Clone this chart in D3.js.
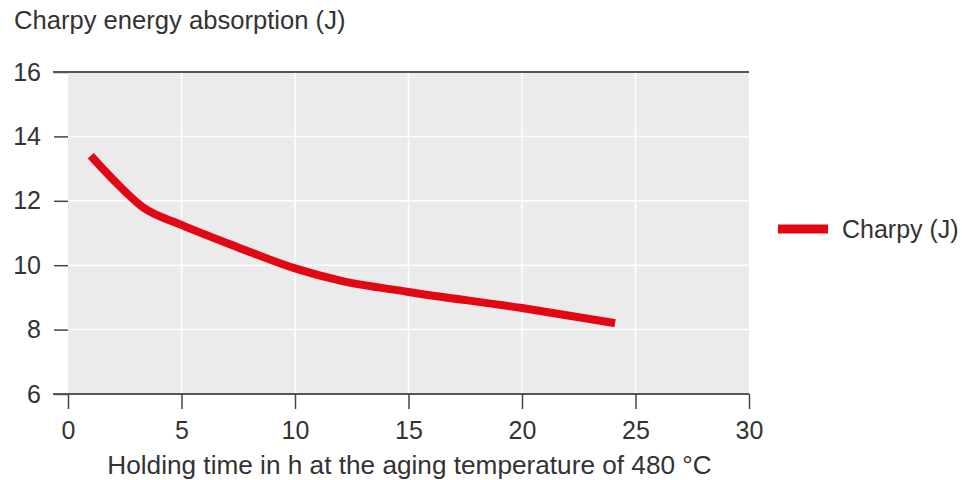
<!DOCTYPE html>
<html><head><meta charset="utf-8">
<script src="https://cdn.jsdelivr.net/npm/d3@7"></script>
<style>
body{margin:0;background:#fff;}
text{font-family:"Liberation Sans",Arial,sans-serif;fill:#333;}
</style></head>
<body><svg id="c" width="966" height="480"></svg>
<script>
const hours = [1, 2, 3.3, 5, 7.5, 10, 12, 15, 20, 24.1];
const charpy = [13.4, 12.65, 11.8, 11.25, 10.55, 9.9, 9.52, 9.17, 8.67, 8.2];
const xTicks = [0, 5, 10, 15, 20, 25, 30];
const yTicks = [6, 8, 10, 12, 14, 16];
const seriesName = "Charpy (J)";
const yTitle = "Charpy energy absorption (J)";
const xTitle = "Holding time in h at the aging temperature of 480 °C";

const svg = d3.select("#c");
const x = d3.scaleLinear().domain([0, 30]).range([68, 749]);
const y = d3.scaleLinear().domain([6, 16]).range([394, 72]);
const red = "#e30613";
const ff = "'Liberation Sans',Arial,sans-serif";

svg.append("rect").attr("x", x(0)).attr("y", y(16)).attr("width", x(30) - x(0)).attr("height", y(6) - y(16)).attr("fill", "#ebebeb");

// grid
svg.append("g").selectAll("line").data(xTicks.filter(d => d > 0 && d < 30)).join("line")
  .attr("x1", d => x(d)).attr("x2", d => x(d)).attr("y1", y(16)).attr("y2", y(6))
  .attr("stroke", "#fff").attr("stroke-width", 1.5);
svg.append("g").selectAll("line").data(yTicks.filter(d => d > 6 && d < 16)).join("line")
  .attr("x1", x(0)).attr("x2", x(30)).attr("y1", d => y(d)).attr("y2", d => y(d))
  .attr("stroke", "#fff").attr("stroke-width", 1.5);

// y axis ticks
const yAxis = svg.append("g").attr("transform", `translate(${x(0)},0)`)
  .call(d3.axisLeft(y).tickValues(yTicks).tickSize(14).tickPadding(13));
yAxis.select(".domain").remove();
yAxis.selectAll("line").attr("stroke", "#444").attr("stroke-width", 1.5);
yAxis.selectAll("text").attr("font-size", 25).attr("fill", "#333").style("font-family", ff);

// top and bottom lines
[16, 6].forEach(v => {
  svg.append("line").attr("x1", 53).attr("x2", x(30)).attr("y1", y(v)).attr("y2", y(v))
    .attr("stroke", "#555").attr("stroke-width", 1.8);
});

// x axis
const xAxis = svg.append("g").attr("transform", `translate(0,${y(6)})`)
  .call(d3.axisBottom(x).tickValues(xTicks).tickSize(15).tickPadding(12));
xAxis.select(".domain").remove();
xAxis.selectAll("line").attr("stroke", "#444").attr("stroke-width", 1.5);
xAxis.selectAll("text").attr("font-size", 25).attr("fill", "#333").style("font-family", ff);

// line
const pts = hours.map((h, i) => [h, charpy[i]]);
svg.append("path").datum(pts)
  .attr("d", d3.line().x(d => x(d[0])).y(d => y(d[1])).curve(d3.curveMonotoneX))
  .attr("fill", "none").attr("stroke", red).attr("stroke-width", 8).attr("stroke-linejoin", "round");

// titles
svg.append("text").attr("x", 14).attr("y", 29).attr("font-size", 25.6).text(yTitle);
svg.append("text").attr("x", (x(0) + x(30)) / 2 + 1).attr("y", 474).attr("text-anchor", "middle").attr("font-size", 26.2).text(xTitle);

// legend
svg.append("line").attr("x1", 778).attr("x2", 828).attr("y1", 229).attr("y2", 229).attr("stroke", red).attr("stroke-width", 9);
svg.append("text").attr("x", 842).attr("y", 238).attr("font-size", 25).text(seriesName);
</script></body></html>
